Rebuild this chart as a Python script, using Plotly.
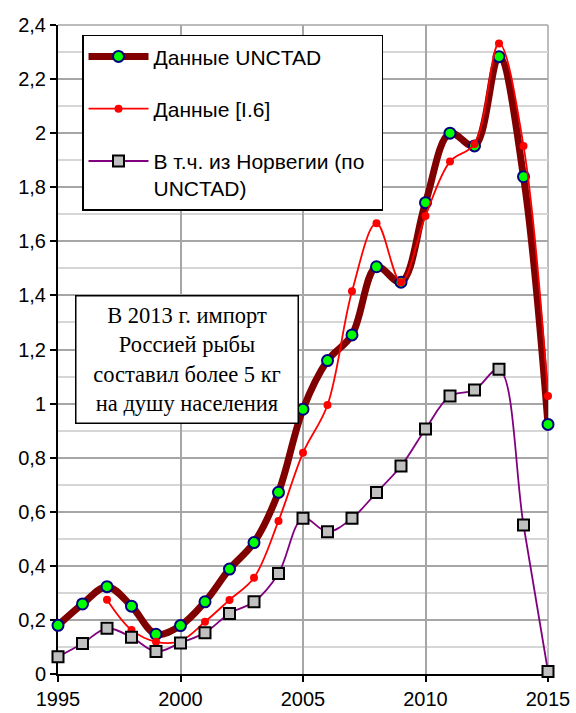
import plotly.graph_objects as go

years = list(range(1995, 2016))

unctad = [0.18, 0.259, 0.323, 0.251, 0.147, 0.179, 0.267, 0.388, 0.486, 0.672,
          0.979, 1.159, 1.254, 1.506, 1.449, 1.743, 2.0, 1.953, 2.283, 1.839, 0.923]

source_i6 = [None, None, 0.275, 0.163, 0.119, 0.122, 0.193, 0.274, 0.356, 0.566,
             0.818, 0.995, 1.415, 1.667, 1.449, 1.694, 1.895, 1.96, 2.332, 1.953, 1.028]

norway = [0.064, 0.113, 0.169, 0.136, 0.083, 0.115, 0.153, 0.224, 0.267, 0.372,
          0.576, 0.526, 0.576, 0.671, 0.769, 0.906, 1.028, 1.05, 1.127, 0.551, 0.009]

series_names = ["Данные UNCTAD", "Данные [I.6]",
                "В т.ч. из Норвегии (по&nbsp;&nbsp;<br>UNCTAD)"]

x_tickvals = [1995, 2000, 2005, 2010, 2015]
x_ticktext = ["1995", "2000", "2005", "2010", "2015"]
y_tickvals = [0, 0.2, 0.4, 0.6, 0.8, 1.0, 1.2, 1.4, 1.6, 1.8, 2.0, 2.2, 2.4]
y_ticktext = ["0", "0,2", "0,4", "0,6", "0,8", "1", "1,2", "1,4", "1,6", "1,8", "2", "2,2", "2,4"]

note_text = "В 2013 г. импорт<br>Россией рыбы<br>составил более 5 кг<br>на душу населения"

SANS = "Liberation Sans, Arial, sans-serif"
SERIF = "Liberation Serif, Times New Roman, serif"

fig = go.Figure()

fig.add_trace(go.Scatter(
    x=years, y=unctad, name=series_names[0], mode="lines+markers",
    line=dict(color="#800000", width=7, shape="spline", smoothing=1),
    marker=dict(symbol="circle", size=11, color="#00FF00",
                line=dict(color="#000080", width=2)),
    cliponaxis=False, legendgroup="a"))

fig.add_trace(go.Scatter(
    x=years, y=source_i6, name=series_names[1], mode="lines+markers",
    line=dict(color="#FF0000", width=1.8, shape="spline", smoothing=1),
    marker=dict(symbol="circle", size=8, color="#FF0000",
                line=dict(color="#FF0000", width=0)),
    cliponaxis=False, connectgaps=False, legendgroup="b"))

fig.add_trace(go.Scatter(
    x=years, y=norway, name=series_names[2], mode="lines+markers",
    line=dict(color="#800080", width=1.8, shape="spline", smoothing=1),
    marker=dict(symbol="square", size=11, color="#C0C0C0",
                line=dict(color="#000000", width=2)),
    cliponaxis=False, legendgroup="c"))

fig.update_xaxes(
    range=[1995, 2015], tickvals=x_tickvals, ticktext=x_ticktext,
    showgrid=True, gridcolor="#A6A6A6", gridwidth=1.5,
    showline=True, linecolor="#000000", linewidth=2,
    ticks="outside", ticklen=6, tickwidth=2, tickcolor="#000000",
    tickfont=dict(family=SANS, size=20, color="#000000"),
    zeroline=False, layer="below traces", mirror=False, automargin=False)

fig.update_yaxes(
    range=[0, 2.4], tickvals=y_tickvals, ticktext=y_ticktext,
    showgrid=True, gridcolor="#A6A6A6", gridwidth=1.5,
    minor=dict(dtick=0.1, showgrid=True, gridcolor="#D6D6D6", gridwidth=1.5, ticks=""),
    showline=True, linecolor="#000000", linewidth=2,
    ticks="outside", ticklen=6, tickwidth=2, tickcolor="#000000",
    tickfont=dict(family=SANS, size=20, color="#000000"),
    zeroline=False, layer="below traces", automargin=False)

# plot-area right/top frame in grid colour
fig.add_shape(type="line", xref="paper", yref="paper", x0=1, x1=1, y0=0, y1=1,
              line=dict(color="#A6A6A6", width=1.5), layer="below")
fig.add_shape(type="line", xref="paper", yref="paper", x0=0, x1=1, y0=1, y1=1,
              line=dict(color="#A6A6A6", width=1.5), layer="below")

fig.add_annotation(
    text=note_text, xref="paper", yref="paper", x=0.264, y=0.484,
    xanchor="center", yanchor="middle", showarrow=False, align="center",
    valign="middle", width=219, height=124,
    font=dict(family=SERIF, size=22.5, color="#000000"),
    bgcolor="#FFFFFF", bordercolor="#000000", borderwidth=1.5, borderpad=1)

fig.update_layout(
    width=576, height=713,
    margin=dict(l=58, r=28, t=25, b=39),
    plot_bgcolor="#FFFFFF", paper_bgcolor="#FFFFFF",
    legend=dict(x=0.049, y=0.985, xanchor="left", yanchor="top",
                bgcolor="#FFFFFF", bordercolor="#000000", borderwidth=1.5,
                font=dict(family=SANS, size=21, color="#000000"),
                itemwidth=60, tracegroupgap=22, valign="top",
                traceorder="grouped"),
    showlegend=True)

fig.write_html("out.html", config={"displayModeBar": False},
               post_script="document.body.style.margin='0';")
